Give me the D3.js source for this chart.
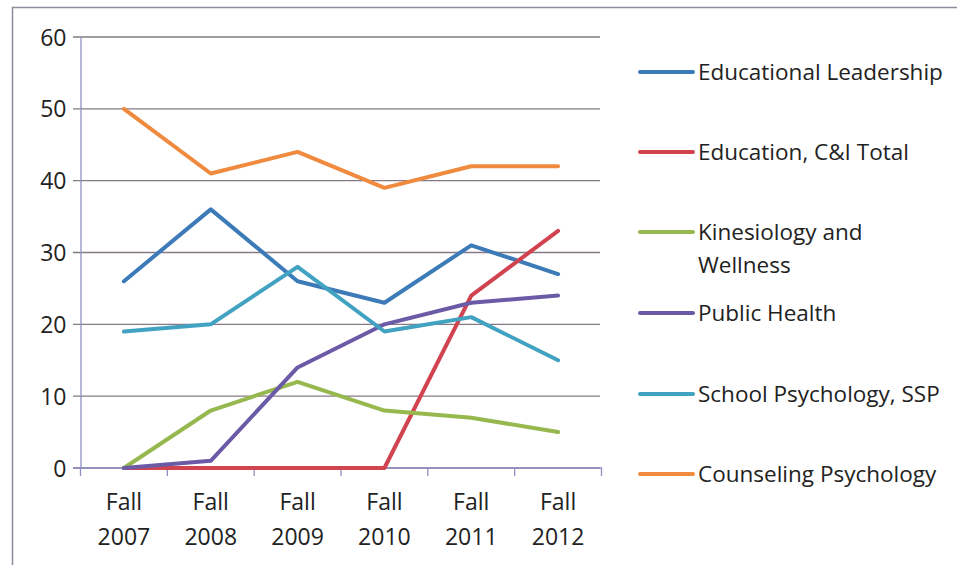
<!DOCTYPE html>
<html>
<head>
<meta charset="utf-8">
<script src="https://cdn.jsdelivr.net/npm/d3@7"></script>
<style>
  body { margin: 0; background: #fff; }
  text { font-family: "Open Sans", "Noto Sans", sans-serif; fill: #222; }
</style>
</head>
<body>
<div id="chart"></div>
<script>
// data
let years = ['Fall 2007', 'Fall 2008', 'Fall 2009', 'Fall 2010', 'Fall 2011', 'Fall 2012'];
let seriesNames = ['Educational Leadership', 'Education, C&I Total', 'Kinesiology and Wellness',
                   'Public Health', 'School Psychology, SSP', 'Counseling Psychology'];
let edLeadership = [26, 36, 26, 23, 31, 27];
let eduCI = [0, 0, 0, 0, 24, 33];
let kinesiology = [0, 8, 12, 8, 7, 5];
let publicHealth = [0, 1, 14, 20, 23, 24];
let schoolPsych = [19, 20, 28, 19, 21, 15];
let counseling = [50, 41, 44, 39, 42, 42];
let yTicks = [0, 10, 20, 30, 40, 50, 60];

let colors = ['#3c7bb8', '#d0434f', '#96b84e', '#6b5ba6', '#41a2c2', '#ef8a3e'];
let allSeries = [edLeadership, eduCI, kinesiology, publicHealth, schoolPsych, counseling];

let width = 957;
let height = 565;

let svg = d3.select('#chart').append('svg').attr('width', width).attr('height', height);

// outer frame of the chart
svg.append('rect')
   .attr('x', 12.5).attr('y', 7.5)
   .attr('width', 980).attr('height', 600)
   .attr('fill', 'none').attr('stroke', '#8c8c9a').attr('stroke-width', 1.5);

let x = d3.scaleBand().domain(years).range([80.5, 601.5]);
let y = d3.scaleLinear().domain([0, 60]).range([468, 37]);

// gridlines
svg.append('g')
   .selectAll('line')
   .data(yTicks)
   .enter().append('line')
      .attr('x1', 73).attr('x2', 600)
      .attr('y1', d => y(d)).attr('y2', d => y(d))
      .attr('stroke', '#857a86').attr('stroke-width', 1.3);

// y axis
let yAxis = d3.axisLeft(y).tickValues(yTicks).tickSize(0).tickPadding(14);
let gy = svg.append('g').attr('transform', 'translate(80.5,0)').call(yAxis);
gy.select('.domain').attr('stroke', '#8f8fc4').attr('stroke-width', 1.3);
gy.selectAll('text').style('font-size', '23px').attr('dy', '0.35em');

// x axis
let xAxis = d3.axisBottom(x).tickSize(0).tickFormat('');
let gx = svg.append('g').attr('transform', 'translate(0,' + y(0) + ')').call(xAxis);
gx.select('.domain').remove();
gx.append('line').attr('x1', 73).attr('x2', 602).attr('stroke', '#8f8fc4').attr('stroke-width', 1.3);
gx.selectAll('.tickmark')
  .data(years.concat(['end']))
  .enter().append('line')
    .attr('class', 'tickmark')
    .attr('x1', (d, i) => x.range()[0] + i * x.bandwidth())
    .attr('x2', (d, i) => x.range()[0] + i * x.bandwidth())
    .attr('y1', 0).attr('y2', 8)
    .attr('stroke', '#8f8fc4').attr('stroke-width', 1.3);

let xLabels = svg.append('g').selectAll('text')
   .data(years)
   .enter().append('text')
      .attr('text-anchor', 'middle')
      .style('font-size', '23px');
xLabels.append('tspan')
   .attr('x', d => x(d) + x.bandwidth() / 2).attr('y', 510)
   .text(d => d.split(' ')[0]);
xLabels.append('tspan')
   .attr('x', d => x(d) + x.bandwidth() / 2).attr('y', 545)
   .text(d => d.split(' ')[1]);

// lines
let line = d3.line()
   .x((d, i) => x(years[i]) + x.bandwidth() / 2)
   .y(d => y(d));

svg.append('g')
   .selectAll('path')
   .data(allSeries)
   .enter().append('path')
      .attr('fill', 'none')
      .attr('stroke', (d, i) => colors[i])
      .attr('stroke-width', 4)
      .attr('stroke-linejoin', 'round')
      .attr('stroke-linecap', 'round')
      .attr('d', d => line(d));

// legend
let legendY = [72, 152, 232, 313, 394, 474];
let legendLines = [['Educational Leadership'], ['Education, C&I Total'], ['Kinesiology and', 'Wellness'],
                   ['Public Health'], ['School Psychology, SSP'], ['Counseling Psychology']];
let leg = svg.append('g').selectAll('g')
   .data(seriesNames)
   .enter().append('g')
      .attr('transform', (d, i) => 'translate(640,' + legendY[i] + ')');
leg.append('line')
   .attr('x1', 0).attr('x2', 53)
   .attr('stroke', (d, i) => colors[i])
   .attr('stroke-width', 4)
   .attr('stroke-linecap', 'round');
leg.each(function (d, i) {
  let t = d3.select(this).append('text').style('font-size', '22.5px');
  legendLines[i].forEach(function (s, k) {
    t.append('tspan').attr('x', 58).attr('y', k * 33).attr('dy', '0.35em').text(s);
  });
});
</script>
</body>
</html>
